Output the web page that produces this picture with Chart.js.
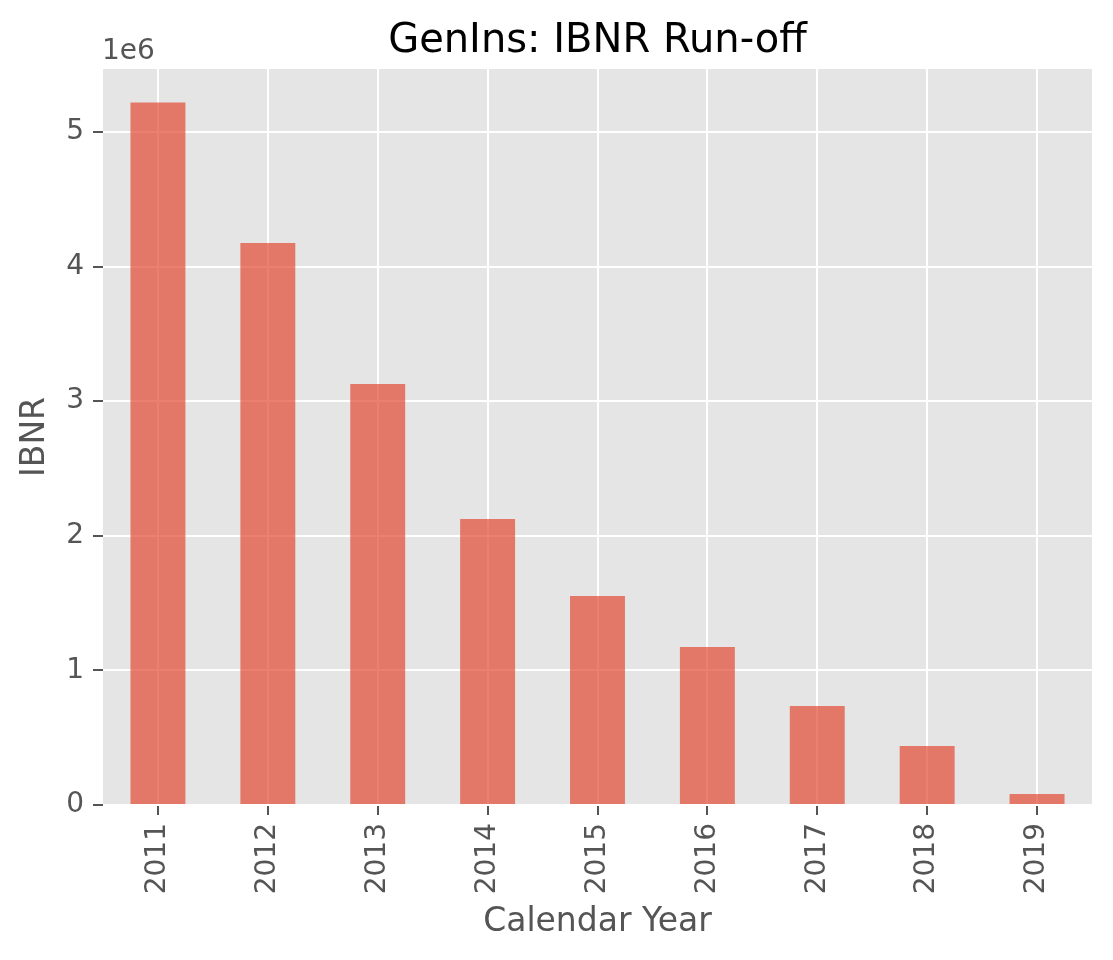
<!DOCTYPE html>
<html>
<head>
<meta charset="utf-8">
<title>GenIns: IBNR Run-off</title>
<script src="https://cdn.jsdelivr.net/npm/chart.js@4.4.1/dist/chart.umd.min.js"></script>
<style>
  html, body { margin: 0; padding: 0; background: #fff; }
  #wrap { width: 1113px; height: 960px; position: relative; }
</style>
</head>
<body>
<div id="wrap"><canvas id="myChart"></canvas></div>
<script>
const years = ["2011", "2012", "2013", "2014", "2015", "2016", "2017", "2018", "2019"];
const ibnr = [5220000, 4175000, 3128000, 2125000, 1553000, 1174000, 736000, 438000, 82000];
const yTicks = [0, 1, 2, 3, 4, 5]; // in units of 1e6
const yMax = 5468000; // top of the panel
const chartTitle = "GenIns: IBNR Run-off";

const FONT = "'DejaVu Sans', 'Liberation Sans', sans-serif";
const GREY = "#555555";

// grey panel behind the bars, the title centred over the panel (like matplotlib)
// and matplotlib's "1e6" offset text
const panelPlugin = {
  id: "panel",
  beforeDraw(chart) {
    const { ctx, chartArea } = chart;
    ctx.save();
    ctx.fillStyle = "#E5E5E5";
    ctx.fillRect(chartArea.left, chartArea.top, chartArea.right - chartArea.left, chartArea.bottom - chartArea.top);
    ctx.restore();
  },
  afterDraw(chart) {
    const { ctx, chartArea } = chart;
    ctx.save();
    ctx.font = "40px " + FONT;
    ctx.fillStyle = "#000000";
    ctx.textAlign = "center";
    ctx.textBaseline = "alphabetic";
    ctx.fillText(chartTitle, (chartArea.left + chartArea.right) / 2, 52);

    ctx.font = "28px " + FONT;
    ctx.fillStyle = GREY;
    ctx.textAlign = "left";
    ctx.fillText("1e6", chartArea.left - 1, 59);
    ctx.restore();
  }
};

const ctx = document.getElementById("myChart").getContext("2d");

const myChart = new Chart(ctx, {
  type: "bar",
  data: {
    labels: years,
    datasets: [
      {
        label: "IBNR",
        data: ibnr,
        backgroundColor: "rgba(226, 74, 51, 0.7)",
        borderWidth: 0,
        categoryPercentage: 1.0,
        barPercentage: 0.5,
      },
    ],
  },
  options: {
    responsive: true,
    maintainAspectRatio: false,
    animation: false,
    layout: { padding: { left: 0, right: 21, top: 69, bottom: 0 } },
    plugins: {
      legend: { display: false },
      tooltip: { enabled: false },
      title: { display: false },
    },
    scales: {
      x: {
        offset: true,
        border: { display: false },
        grid: {
          offset: false,
          color: "#ffffff",
          lineWidth: 2,
          tickColor: GREY,
          tickWidth: 2,
          tickLength: 10,
        },
        ticks: {
          color: GREY,
          font: { family: FONT, size: 28 },
          minRotation: 90,
          maxRotation: 90,
          padding: 8,
          autoSkip: false,
        },
        title: {
          display: true,
          text: "Calendar Year",
          color: GREY,
          font: { family: FONT, size: 33, lineHeight: 1.2 },
          padding: { top: 0, bottom: 18 },
        },
        afterFit(scale) { scale.height = 155; },
      },
      y: {
        min: 0,
        max: yMax,
        border: { display: false },
        grid: {
          color: "#ffffff",
          lineWidth: 2,
          tickColor: GREY,
          tickWidth: 2,
          tickLength: 10,
        },
        afterBuildTicks(scale) {
          scale.ticks = yTicks.map(v => ({ value: v * 1e6 }));
        },
        ticks: {
          color: GREY,
          font: { family: FONT, size: 28 },
          padding: 9,
          callback: value => String(value / 1e6),
        },
        title: {
          display: true,
          text: "IBNR",
          color: GREY,
          font: { family: FONT, size: 33, lineHeight: 1.2 },
          padding: { top: 16, bottom: 0 },
        },
        afterFit(scale) { scale.width = 103; },
      },
    },
  },
  plugins: [panelPlugin],
});
</script>
</body>
</html>
